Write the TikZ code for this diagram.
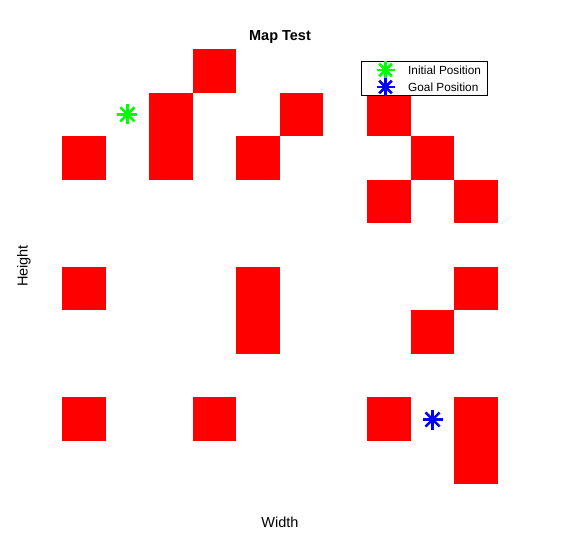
\documentclass[tikz,border=0pt]{standalone}
\usepackage{fontspec}
\setmainfont{Liberation Sans}
\usepackage{xcolor}
\usetikzlibrary{positioning}

\definecolor{obstacle}{RGB}{255,0,0}
\definecolor{startgreen}{RGB}{0,255,0}
\definecolor{goalblue}{RGB}{0,0,255}

% asterisk marker at (x,y), radius #3, in colour #4
\newcommand{\mapstar}[4]{%
    \begin{scope}[shift={(#1,#2)}]
        \foreach \a in {0,45,90,135} {
            \draw[#4, line width=2.6pt] (\a:#3) -- (\a+180:#3);
        }
    \end{scope}
}

\begin{document}
\begin{tikzpicture}[x=1pt,y=-1pt,
    cell/.style={fill=obstacle},
    axislabel/.style={inner sep=0pt, font=\fontsize{14.5}{16}\selectfont},
    legendtext/.style={inner sep=0pt, anchor=west, font=\fontsize{11.8}{13}\selectfont}]

    % Canvas
    \useasboundingbox (0,0) rectangle (562,534);

    % Obstacles: column/row, cells 43.57 x 43.53 from (62,49)
    \foreach \c/\r in {3/0, 2/1, 5/1, 7/1, 0/2, 2/2, 4/2, 8/2, 7/3, 9/3,
                       0/5, 4/5, 9/5, 4/6, 8/6, 0/8, 3/8, 7/8, 9/8, 9/9} {
        \fill[cell] ({62+43.57*\c},{49+43.53*\r}) rectangle ++(43.57,43.53);
    }

    % Start and goal
    \mapstar{127.4}{114.3}{10}{startgreen}
    \mapstar{432.6}{419.5}{10}{goalblue}

    % Title and axis labels
    \node[axislabel, font=\fontsize{14.5}{16}\selectfont\bfseries] (title) at (280,37) {Map Test};
    \node[axislabel] (xlabel) at (280,522) {Width};
    \node[axislabel, rotate=90] (ylabel) at (24,266) {Height};

    % Legend
    \draw[fill=white, line width=0.6pt] (361,61) rectangle (487,95);
    \mapstar{385.5}{70}{9}{startgreen}
    \mapstar{385.5}{87}{9}{goalblue}
    \node[legendtext] (initlabel) at (408,70.5) {Initial Position};
    \node[legendtext] (goallabel) at (408,87.5) {Goal Position};
\end{tikzpicture}
\end{document}
